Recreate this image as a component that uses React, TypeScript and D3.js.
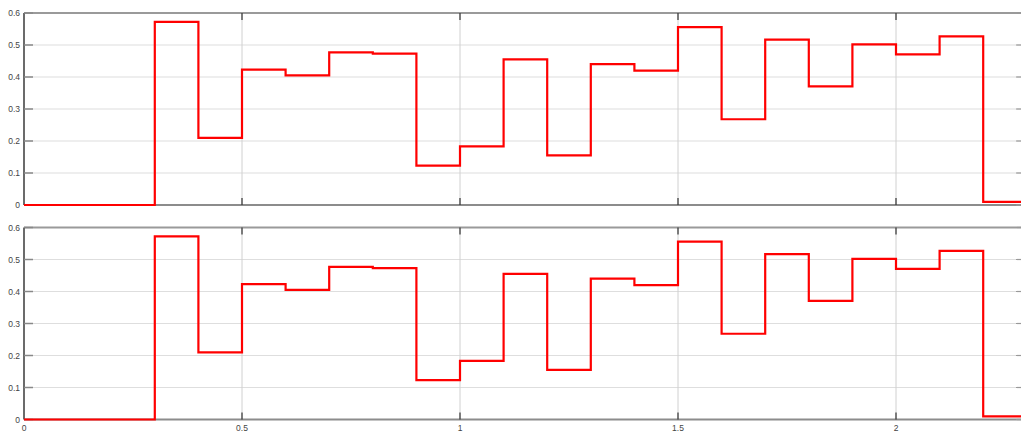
import React, { useEffect, useRef } from 'react'
import * as d3 from 'd3'

// step start times (s) and the held value from each start
const stepTimes = [0, 0.3, 0.4, 0.5, 0.6, 0.7, 0.8, 0.9, 1.0, 1.1, 1.2, 1.3, 1.4, 1.5, 1.6, 1.7, 1.8, 1.9, 2.0, 2.1, 2.2, 2.29]
const stepValues = [0, 0.572, 0.21, 0.423, 0.405, 0.477, 0.473, 0.123, 0.183, 0.455, 0.155, 0.44, 0.42, 0.556, 0.268, 0.517, 0.371, 0.502, 0.471, 0.527, 0.01, 0.01]

const xTicks = [0, 0.5, 1, 1.5, 2]
const xTickLabels = ['0', '0.5', '1', '1.5', '2']
const yTicks = [0, 0.1, 0.2, 0.3, 0.4, 0.5, 0.6]
const yTickLabels = ['0', '0.1', '0.2', '0.3', '0.4', '0.5', '0.6']

const W = 1021
const H = 432

export default function App() {
  const ref = useRef<SVGSVGElement>(null)

  useEffect(() => {
    const svg = d3.select(ref.current)
    svg.selectAll('*').remove()

    const data = stepTimes.map((t, i) => [t, stepValues[i]] as [number, number])

    const x = d3.scaleLinear().domain([0, 2.29]).range([24, 24 + 2.29 * 436])

    const panels = [
      { top: 13, bottom: 205, labels: false },
      { top: 227.5, bottom: 419.5, labels: true },
    ]

    panels.forEach(p => {
      const y = d3.scaleLinear().domain([0, 0.6]).range([p.bottom, p.top])
      const g = svg.append('g')

      // grid
      g.selectAll('line.hgrid')
        .data(yTicks.slice(1, -1)).enter()
        .append('line')
        .attr('x1', x(0)).attr('x2', x(2.29))
        .attr('y1', d => y(d)).attr('y2', d => y(d))
        .attr('stroke', '#dedede').attr('stroke-width', 1.2)

      g.selectAll('line.vgrid')
        .data(xTicks.slice(1)).enter()
        .append('line')
        .attr('x1', d => x(d)).attr('x2', d => x(d))
        .attr('y1', p.top).attr('y2', p.bottom)
        .attr('stroke', '#d0d0d0').attr('stroke-width', 1)

      // box
      g.append('line').attr('x1', x(0)).attr('x2', x(2.29)).attr('y1', p.top).attr('y2', p.top)
        .attr('stroke', '#9a9a9a').attr('stroke-width', 2)
      g.append('line').attr('x1', x(0)).attr('x2', x(2.29)).attr('y1', p.bottom).attr('y2', p.bottom)
        .attr('stroke', '#8c8c8c').attr('stroke-width', 2)
      g.append('line').attr('x1', x(0)).attr('x2', x(0)).attr('y1', p.top).attr('y2', p.bottom)
        .attr('stroke', '#3a3a3a').attr('stroke-width', 1.5)

      // x ticks top & bottom, pointing inward
      xTicks.slice(1).forEach(t => {
        g.append('line').attr('x1', x(t)).attr('x2', x(t)).attr('y1', p.top).attr('y2', p.top + 7)
          .attr('stroke', '#333').attr('stroke-width', 1.2)
        g.append('line').attr('x1', x(t)).attr('x2', x(t)).attr('y1', p.bottom).attr('y2', p.bottom - 7)
          .attr('stroke', '#333').attr('stroke-width', 1.2)
      })

      // y ticks left & right
      yTicks.forEach(t => {
        g.append('line').attr('x1', x(0)).attr('x2', x(0) + 9).attr('y1', y(t)).attr('y2', y(t))
          .attr('stroke', '#888').attr('stroke-width', 1.5)
        g.append('line').attr('x1', 1021).attr('x2', 1016).attr('y1', y(t)).attr('y2', y(t))
          .attr('stroke', '#999').attr('stroke-width', 1.2)
      })

      // y labels
      g.selectAll('text.ylab')
        .data(yTicks).enter()
        .append('text')
        .attr('x', 20)
        .attr('y', d => y(d) + 3)
        .attr('text-anchor', 'end')
        .attr('font-family', 'Liberation Sans, Arial, sans-serif')
        .attr('font-size', 8.5)
        .attr('fill', '#444')
        .text((d, i) => yTickLabels[i])

      if (p.labels) {
        g.selectAll('text.xlab')
          .data(xTicks).enter()
          .append('text')
          .attr('x', d => x(d))
          .attr('y', p.bottom + 11)
          .attr('text-anchor', 'middle')
          .attr('font-family', 'Liberation Sans, Arial, sans-serif')
          .attr('font-size', 8.5)
          .attr('fill', '#444')
          .text((d, i) => xTickLabels[i])
      }

      const line = d3.line<[number, number]>()
        .x(d => x(d[0]))
        .y(d => y(d[1]))
        .curve(d3.curveStepAfter)

      g.append('path')
        .datum(data)
        .attr('d', line)
        .attr('fill', 'none')
        .attr('stroke', '#ff0000')
        .attr('stroke-width', 2.2)
    })
  }, [])

  return (
    <svg ref={ref} width={W} height={H}
      style={{ position: 'absolute', left: 0, top: 0, background: '#fff' }} />
  )
}
